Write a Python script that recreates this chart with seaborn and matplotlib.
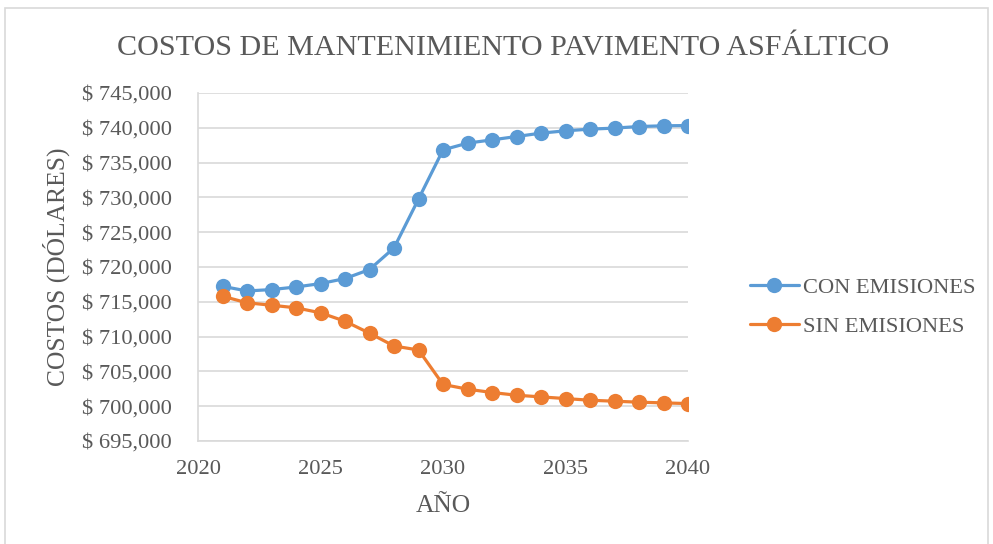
import matplotlib
matplotlib.use("Agg")
import matplotlib.pyplot as plt
import seaborn as sns
import pandas as pd
from matplotlib.ticker import FuncFormatter, MultipleLocator
from matplotlib.patches import Rectangle

years = list(range(2021, 2041))
con_emisiones = [717230, 716560, 716760, 717130, 717620, 718340, 719640, 722750, 729770, 736830,
                 737800, 738270, 738750, 739240, 739570, 739810, 739960, 740190, 740290, 740330]
sin_emisiones = [715800, 714860, 714510, 714140, 713420, 712210, 710490, 708650, 708080, 703130,
                 702450, 701970, 701580, 701340, 701100, 700860, 700720, 700580, 700480, 700380]
series_names = ["CON EMISIONES", "SIN EMISIONES"]
colors = ["#5B9BD5", "#ED7D31"]

df = pd.DataFrame({
    "year": years * 2,
    "cost": con_emisiones + sin_emisiones,
    "serie": [series_names[0]] * len(years) + [series_names[1]] * len(years),
})

sns.set_theme(style="white")
plt.rcParams["font.family"] = ["Liberation Serif", "DejaVu Serif"]
text_color = "#595959"

fig = plt.figure(figsize=(9.93, 5.44), dpi=100)
ax = fig.add_axes([0.1994, 0.1893, 0.4935, 0.6397])

sns.lineplot(data=df, x="year", y="cost", hue="serie", palette=colors, marker="o",
             markersize=11, markeredgewidth=0, linewidth=2.3, legend=False, ax=ax)

ax.set_xlim(2020, 2040)
ax.set_ylim(695000, 745000)
ax.xaxis.set_major_locator(MultipleLocator(5))
ax.yaxis.set_major_locator(MultipleLocator(5000))
ax.yaxis.set_major_formatter(FuncFormatter(lambda v, p: "$ {:,.0f}".format(v)))
ax.grid(axis="y", color="#D9D9D9", linewidth=1.2)
ax.grid(axis="x", visible=False)
for s in ["top", "right"]:
    ax.spines[s].set_visible(False)
for s in ["left", "bottom"]:
    ax.spines[s].set_color("#D9D9D9")
    ax.spines[s].set_linewidth(1.2)
ax.tick_params(axis="both", length=0, labelsize=16.2, colors=text_color)
ax.tick_params(axis="y", pad=19)
ax.tick_params(axis="x", pad=14)

ax.set_xlabel("AÑO", fontsize=18.4, color=text_color, labelpad=11)
ax.set_ylabel("COSTOS (DÓLARES)", fontsize=18.4, color=text_color, labelpad=8.5)
fig.text(0.507, 0.912, "COSTOS DE MANTENIMIENTO PAVIMENTO ASFÁLTICO", ha="center", va="center",
         fontsize=21.7, color=text_color)

handles = ax.lines[:2]
ax.legend(handles, series_names, loc="center left", bbox_to_anchor=(0.755, 0.436),
          bbox_transform=fig.transFigure, borderpad=0, borderaxespad=0,
          frameon=False, fontsize=16.2, labelcolor=text_color, handlelength=2.2,
          handletextpad=0.15, labelspacing=0.8)

fig.patches.append(Rectangle((0.005, -0.02), 0.99, 1.005, transform=fig.transFigure,
                             fill=False, edgecolor="#D9D9D9", linewidth=1.2))

fig.savefig("out.png", dpi=100, facecolor="white")
